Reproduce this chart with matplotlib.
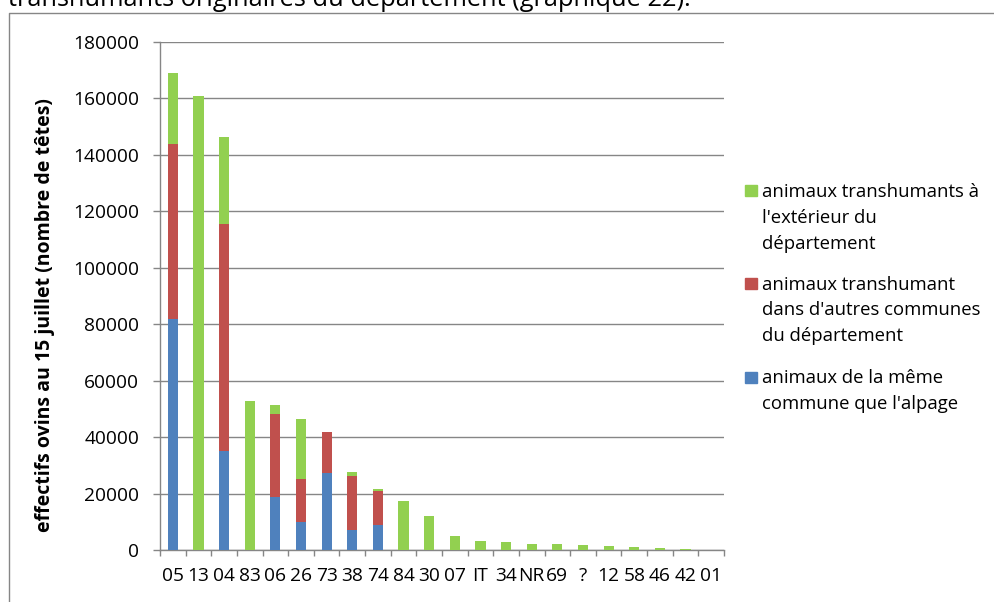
import matplotlib
matplotlib.use("Agg")
import matplotlib.pyplot as plt
from matplotlib.patches import Rectangle
from matplotlib.lines import Line2D
import numpy as np

plt.rcParams['font.family'] = ['Open Sans', 'DejaVu Sans']

# departement d'origine des troupeaux
departements = ['05', '13', '04', '83', '06', '26', '73', '38', '74', '84', '30',
                '07', 'IT', '34', 'NR', '69', '?', '12', '58', '46', '42', '01']

# effectifs ovins au 15 juillet (nombre de têtes)
meme_commune = [82000, 0, 35000, 0, 18900, 9900, 27300, 7200, 8900, 0, 0,
                0, 0, 0, 0, 0, 0, 0, 0, 0, 0, 0]
autres_communes = [61800, 0, 80600, 0, 29300, 15100, 14600, 19000, 12100, 0, 0,
                   0, 0, 0, 0, 0, 0, 0, 0, 0, 0, 0]
exterieur = [25200, 161000, 30700, 52800, 3200, 21500, 0, 1300, 600, 17200, 12000,
             4800, 3200, 2700, 2300, 2200, 1700, 1300, 900, 800, 300, 100]

legend_labels = ["animaux transhumants à\nl'extérieur du\ndépartement",
                 "animaux transhumant\ndans d'autres communes\ndu département",
                 "animaux de la même\ncommune que l'alpage"]

BLUE = '#4F81BD'
RED = '#C0504D'
GREEN = '#92D050'
GREY = '#868686'

W, H = 994, 602
fig = plt.figure(figsize=(W / 100, H / 100), dpi=100)
ax = fig.add_axes([160 / W, 1 - 550 / H, 564 / W, 508 / H])

x = np.arange(len(departements))
b1 = np.array(meme_commune)
b2 = b1 + np.array(autres_communes)
ax.bar(x, meme_commune, 0.4, color=BLUE, zorder=3)
ax.bar(x, autres_communes, 0.4, bottom=b1, color=RED, zorder=3)
ax.bar(x, exterieur, 0.4, bottom=b2, color=GREEN, zorder=3)

ax.set_xlim(-0.5, len(departements) - 0.5)
ax.set_ylim(0, 180000)
ax.set_yticks(np.arange(0, 180001, 20000))
ax.grid(axis='y', color=GREY, lw=1.0, zorder=0)
ax.set_xticks(x, departements)
ax.set_xticks(np.arange(-0.5, len(departements), 1), minor=True)

for s in ['top', 'right']:
    ax.spines[s].set_visible(False)
for s in ['left', 'bottom']:
    ax.spines[s].set_color(GREY)
    ax.spines[s].set_linewidth(1.0)

ax.tick_params(axis='x', which='major', length=0, pad=12.5, labelsize=13.8)
ax.tick_params(axis='x', which='minor', length=4.5, width=1.0, color=GREY)
ax.tick_params(axis='y', length=5, width=1.0, color=GREY, pad=10, labelsize=13.8)

fig.text(45 / W, 1 - 315 / H, 'effectifs ovins au 15 juillet (nombre de têtes)',
         rotation=90, ha='center', va='center', fontweight='bold', fontsize=14)

# texte du document au-dessus du graphique (coupé)
fig.text(8 / W, 1 - 6 / H, 'transhumants originaires du département (graphique 22).',
         ha='left', va='baseline', fontsize=18.3)

# cadre du graphique
fig.add_artist(Line2D([8.5 / W, 8.5 / W, 1.01], [-0.01, 1 - 12.5 / H, 1 - 12.5 / H],
                      transform=fig.transFigure, color=GREY, lw=1.0))

# légende
colors = [GREEN, RED, BLUE]
first_baselines = [197, 289.5, 383]
step = 25.8
for lab, col, y0 in zip(legend_labels, colors, first_baselines):
    fig.add_artist(Rectangle((745 / W, 1 - (y0 - 0.5) / H), 11.5 / W, 11 / H,
                             transform=fig.transFigure, color=col))
    for i, line in enumerate(lab.split('\n')):
        fig.text(762 / W, 1 - (y0 + i * step) / H, line, ha='left', va='baseline',
                 fontsize=13.3)

fig.savefig('out.png', dpi=100)
